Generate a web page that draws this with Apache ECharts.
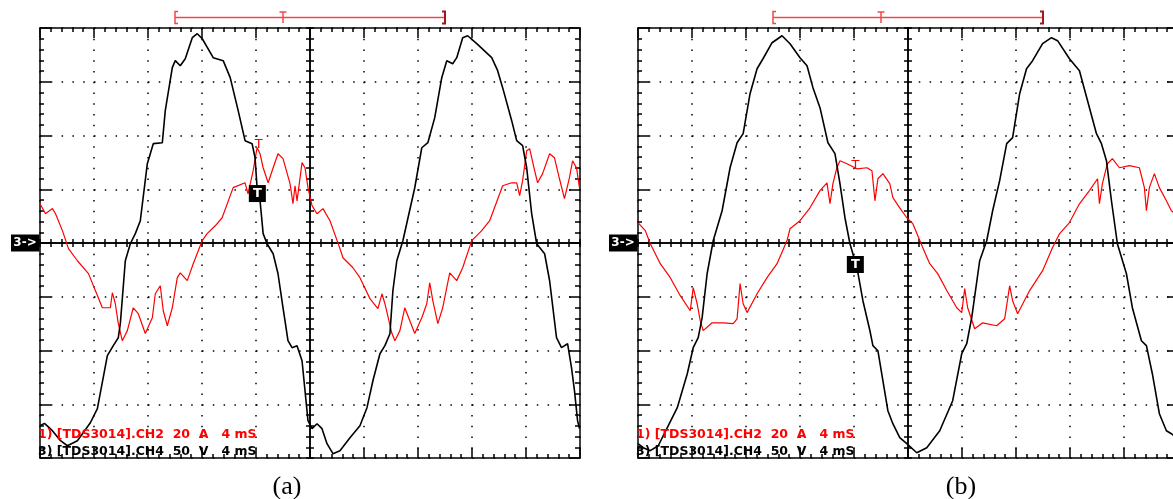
<!DOCTYPE html>
<html>
<head>
<meta charset="utf-8">
<title>TDS3014 waveforms</title>
<script src="https://cdn.jsdelivr.net/npm/echarts@6.0.0/dist/echarts.min.js"></script>
<style>
html, body { margin: 0; padding: 0; background: #fff; }
#main { width: 1173px; height: 499px; }
</style>
</head>
<body>
<div id="main"></div>
<script>
// two scope captures: black = CH4 voltage (50 V/div), red = CH2 current (20 A/div), 4 ms/div

// (a) voltage
var timeVoltA = [0.0,0.33,0.92,1.52,2.03,2.77,3.73,4.25,4.99,5.43,5.80,5.95,6.32,6.69,7.06,7.43,7.95,8.39,9.06,9.28,9.80,10.02,10.39,10.76,11.28,11.65,12.02,12.83,13.57,14.09,14.68,15.19,15.71,15.93,16.08,16.30,16.53,16.82,17.27,17.63,18.00,18.37,18.67,19.04,19.41,19.63,19.85,20.15,20.52,20.89,21.26,21.70,22.22,22.96,23.70,24.22,24.66,25.18,25.55,25.92,26.14,26.43,26.88,27.76,28.28,28.73,29.24,29.76,30.13,30.57,30.87,31.31,31.68,32.35,33.46,33.90,34.27,34.94,35.31,35.75,36.05,36.42,36.79,37.38,37.75,38.26,38.63,39.08,39.37,39.59,39.82,39.96];
var voltA = [-170.0,-167.8,-174.6,-183.9,-188.6,-183.9,-167.2,-154.1,-104.8,-95.5,-88.1,-75.1,-16.5,-0.7,8.7,20.7,73.8,92.4,93.3,123.1,163.1,169.6,164.9,171.4,191.0,194.7,190.0,172.4,169.6,153.8,123.1,95.2,92.4,79.3,51.4,39.3,8.7,-0.7,-10.0,-28.6,-60.2,-90.9,-97.4,-95.5,-109.5,-137.4,-165.3,-172.7,-168.1,-172.7,-186.7,-196.0,-193.2,-181.1,-170.0,-153.2,-128.1,-103.0,-95.5,-84.4,-44.4,-16.5,2.1,51.4,88.6,93.3,116.6,153.8,169.6,166.8,172.4,191.0,192.8,185.4,172.4,160.3,144.5,113.8,95.2,90.5,70.0,27.3,-0.7,-10.0,-35.1,-88.1,-97.4,-93.7,-116.0,-137.4,-165.3,-172.7];
// (a) current
var timeAmpA = [0.0,0.41,0.92,1.15,1.66,2.11,2.77,3.59,4.10,4.62,5.21,5.36,5.58,5.80,6.10,6.47,6.91,7.28,7.80,8.32,8.54,8.91,9.13,9.43,9.80,10.17,10.39,10.91,11.35,12.02,12.38,12.98,13.49,14.31,15.19,15.41,15.79,16.08,16.30,16.53,16.90,17.27,17.63,18.00,18.52,18.74,18.89,19.04,19.41,19.63,19.85,20.15,20.52,20.96,21.48,22.22,22.44,23.18,23.70,24.44,25.03,25.33,25.55,26.07,26.29,26.66,27.02,27.76,28.28,28.65,28.87,29.10,29.47,29.83,30.35,30.87,31.31,31.98,32.72,33.31,34.27,34.94,35.31,35.53,35.75,36.05,36.27,36.64,36.86,37.23,37.75,38.11,38.48,38.85,39.22,39.45,39.74,39.96];
var ampA = [14.6,10.9,12.8,10.9,4.6,-2.1,-6.6,-11.4,-17.7,-24.1,-24.1,-18.5,-22.6,-30.0,-36.4,-32.6,-24.1,-26.3,-33.7,-27.8,-18.9,-15.9,-25.2,-30.8,-24.1,-12.9,-11.1,-14.0,-7.7,0.9,3.5,6.4,9.4,20.6,22.4,18.3,26.9,35.5,33.2,28.0,22.4,28.0,33.2,31.4,22.1,14.6,21.3,15.7,29.9,28.0,20.6,13.9,10.9,12.8,8.3,-2.1,-5.5,-9.2,-12.9,-20.7,-24.4,-18.9,-22.6,-33.7,-36.4,-32.6,-24.1,-33.7,-27.8,-22.6,-14.8,-21.5,-30.0,-24.1,-11.1,-14.0,-9.2,0.9,4.6,8.3,21.3,22.4,22.4,17.6,23.2,34.3,35.1,26.9,22.4,25.8,33.2,31.7,23.9,16.5,24.3,30.6,28.0,20.6];

// (b) voltage
var timeVoltB = [0.0,0.39,0.91,1.50,2.17,2.91,3.65,4.09,4.46,4.75,5.12,5.57,6.23,6.82,7.34,7.79,8.30,8.82,9.26,9.93,10.67,11.26,12.00,12.52,12.96,13.48,14.07,14.59,14.96,15.33,15.70,16.22,16.66,17.18,17.40,17.77,18.14,18.51,18.88,19.39,19.91,20.65,21.39,22.35,23.31,23.98,24.35,24.72,25.31,25.83,26.27,26.79,27.31,27.75,28.27,28.78,29.23,29.97,30.63,31.08,31.96,32.70,33.30,33.96,34.33,34.70,35.07,35.51,36.18,36.62,37.29,37.66,38.10,38.62,39.14,39.51,40.0];
var voltB = [-186.7,-190.4,-193.2,-188.6,-171.8,-153.2,-121.6,-97.4,-88.1,-69.5,-28.6,2.1,30.0,70.0,93.3,101.7,138.9,162.1,171.4,186.3,192.8,185.4,172.4,164.9,144.5,125.9,93.3,83.1,55.2,23.5,-0.7,-23.0,-53.7,-81.6,-95.5,-100.2,-128.1,-156.0,-168.1,-181.1,-186.7,-195.1,-190.4,-174.6,-146.7,-103.0,-93.7,-69.5,-16.5,2.1,30.0,58.0,92.4,98.0,138.9,162.1,169.6,185.4,191.0,188.2,171.4,160.3,132.4,101.7,92.4,76.6,39.3,-0.7,-28.6,-60.2,-90.9,-95.5,-121.6,-158.8,-174.6,-177.4,-182.0];
// (b) current
var timeAmpB = [0.0,0.54,0.91,1.65,2.39,3.13,3.87,4.09,4.38,4.61,4.83,5.49,6.31,7.05,7.34,7.56,7.79,8.08,8.82,9.56,10.30,11.04,11.26,12.00,12.74,13.48,14.00,14.22,14.44,14.73,14.96,15.48,16.22,16.96,17.33,17.55,17.77,18.14,18.65,18.88,19.39,19.91,20.36,21.09,21.61,22.20,22.87,23.61,23.98,24.20,24.42,24.94,25.53,26.57,27.16,27.53,27.75,28.12,29.01,29.97,30.71,31.23,31.96,32.70,33.44,34.04,34.18,34.40,34.77,35.14,35.66,36.40,37.14,37.51,37.66,37.88,38.25,38.62,39.14,39.51,40.0];
var ampB = [7.6,4.6,-0.3,-7.7,-12.9,-19.6,-25.2,-16.6,-22.6,-28.9,-32.6,-29.7,-29.7,-30.0,-28.2,-15.1,-22.6,-25.9,-18.9,-12.9,-7.7,0.9,5.3,8.3,13.1,19.5,22.4,14.6,22.1,28.0,30.6,29.5,27.6,28.0,26.9,15.7,23.9,25.8,22.1,16.9,13.1,9.4,7.2,-1.7,-7.7,-11.4,-17.7,-24.1,-25.9,-17.0,-24.1,-31.9,-29.7,-30.8,-28.2,-15.9,-21.5,-26.3,-17.7,-10.3,-1.7,3.5,7.6,14.6,19.5,23.9,14.6,22.1,29.5,31.4,28.0,28.8,28.0,20.6,12.0,20.6,25.8,20.6,15.7,12.0,10.0];

// trigger marks
var trigTime = [16.1, 16.1];
var trigVolt = [46, -20];
var levelTime = [16.2, 16.1];
var levelAmp = [36.6, 28.8];
var recordWindow = [10, 30];
var recordTrig = 18;

// scales
var timeScale = {min: 0, max: 40, interval: 4};
var voltScale = {min: -200, max: 200, interval: 50};
var ampScale = {min: -80, max: 80, interval: 20};

var captions = ['(a)', '(b)'];
var chLabels = ['1) [TDS3014].CH2  20  A   4 mS', '3) [TDS3014].CH4  50  V   4 mS'];

var panels = [
    {left: 40, cap: 287, tv: timeVoltA, v: voltA, ti: timeAmpA, a: ampA},
    {left: 638, cap: 961, tv: timeVoltB, v: voltB, ti: timeAmpB, a: ampB}
];
var TOP = 28, GW = 540, GH = 430;

function zip(xs, ys) {
    var out = [];
    for (var i = 0; i < xs.length; i++) out.push([xs[i], ys[i]]);
    return out;
}

var LS = {color: '#000', width: 1.5};
function axis(gi, pos, sc, o) {
    return {
        type: 'value', gridIndex: gi, position: pos, offset: o.offset || 0,
        min: sc.min, max: sc.max, interval: sc.interval,
        axisLine: {show: true, onZero: false, lineStyle: LS},
        axisTick: {show: true, inside: o.inside, length: o.major, lineStyle: LS},
        minorTick: {show: true, splitNumber: 5, length: o.minor, lineStyle: LS},
        axisLabel: {show: false},
        splitLine: o.dots ? {show: true, lineStyle: {color: '#000', width: 1.5, type: o.dots}} : {show: false},
        axisPointer: {show: false}
    };
}

var grids = [], xAxes = [], yAxes = [], series = [], graphics = [];

panels.forEach(function (p, i) {
    grids.push({left: p.left, top: TOP, width: GW, height: GH, outerBoundsMode: 'none', containLabel: false});

    xAxes.push(axis(i, 'bottom', timeScale, {inside: true, major: 10, minor: 4, dots: [1.5, 9.25]}));
    xAxes.push(axis(i, 'top', timeScale, {inside: true, major: 10, minor: 4}));
    xAxes.push(axis(i, 'bottom', timeScale, {inside: true, major: 4, minor: 4, offset: -GH / 2}));
    xAxes.push(axis(i, 'bottom', timeScale, {inside: false, major: 4, minor: 4, offset: -GH / 2}));

    yAxes.push(axis(i, 'left', voltScale, {inside: true, major: 11, minor: 4, dots: [1.5, 9.3]}));
    yAxes.push(axis(i, 'right', ampScale, {inside: true, major: 11, minor: 5}));
    yAxes.push(axis(i, 'left', voltScale, {inside: true, major: 4, minor: 4, offset: -GW / 2}));
    yAxes.push(axis(i, 'left', voltScale, {inside: false, major: 4, minor: 4, offset: -GW / 2}));

    series.push({
        type: 'line', xAxisIndex: i * 4, yAxisIndex: i * 4 + 1,
        data: zip(p.ti, p.a), showSymbol: false, symbol: 'none',
        lineStyle: {color: '#ff0000', width: 1.2}, z: 3,
        markPoint: {
            symbol: 'rect', symbolSize: 1, itemStyle: {color: 'rgba(0,0,0,0)'},
            label: {show: true, position: 'inside', formatter: 'T', color: '#ff0000', fontSize: 13, fontFamily: 'DejaVu Sans'},
            data: [{coord: [levelTime[i], levelAmp[i]]}]
        }
    });
    series.push({
        type: 'line', xAxisIndex: i * 4, yAxisIndex: i * 4,
        data: zip(p.tv, p.v), showSymbol: false, symbol: 'none',
        lineStyle: {color: '#000', width: 1.6}, z: 4,
        markPoint: {
            symbol: 'rect', symbolSize: 17, itemStyle: {color: '#000'},
            label: {show: true, position: 'inside', formatter: 'T', color: '#fff', fontSize: 13, fontWeight: 'bold', fontFamily: 'DejaVu Sans'},
            data: [{coord: [trigTime[i], trigVolt[i]]}]
        }
    });

    // ground marker "3->"
    var midY = TOP + GH / 2;
    graphics.push({type: 'rect', shape: {x: p.left - 29, y: midY - 8.5, width: 28.5, height: 17}, style: {fill: '#000'}, z: 10});
    graphics.push({type: 'text', x: p.left - 15, y: midY, z: 11,
        style: {text: '3->', fill: '#fff', font: 'bold 12px "DejaVu Sans"', align: 'center', verticalAlign: 'middle', textAlign: 'center', textVerticalAlign: 'middle'}});

    // record window bar on top
    var tx = function (t) { return p.left + GW * (t - timeScale.min) / (timeScale.max - timeScale.min); };
    var x1 = tx(recordWindow[0]), x2 = tx(recordWindow[1]), xt = tx(recordTrig);
    graphics.push({type: 'line', shape: {x1: x1, y1: 17.5, x2: x2, y2: 17.5}, style: {stroke: '#f04848', lineWidth: 1.5}, z: 10});
    graphics.push({type: 'polyline', shape: {points: [[x1 + 3, 11.5], [x1, 11.5], [x1, 23.5], [x1 + 3, 23.5]]}, style: {stroke: '#f04848', lineWidth: 1.5, fill: null}, z: 10});
    graphics.push({type: 'polyline', shape: {points: [[x2 - 3, 11.5], [x2, 11.5], [x2, 23.5], [x2 - 3, 23.5]]}, style: {stroke: '#a01818', lineWidth: 2, fill: null}, z: 10});
    graphics.push({type: 'line', shape: {x1: xt - 3.5, y1: 12, x2: xt + 3.5, y2: 12}, style: {stroke: '#f04848', lineWidth: 1.5}, z: 10});
    graphics.push({type: 'line', shape: {x1: xt, y1: 12, x2: xt, y2: 23}, style: {stroke: '#f04848', lineWidth: 1.5}, z: 10});

    // channel labels
    graphics.push({type: 'text', x: p.left - 2, y: 435, z: 11,
        style: {text: chLabels[0], fill: '#ff0000', font: 'bold 12.5px "DejaVu Sans"', align: 'left', verticalAlign: 'middle', textAlign: 'left', textVerticalAlign: 'middle'}});
    graphics.push({type: 'text', x: p.left - 2, y: 451.5, z: 11,
        style: {text: chLabels[1], fill: '#000', font: 'bold 12.5px "DejaVu Sans"', align: 'left', verticalAlign: 'middle', textAlign: 'left', textVerticalAlign: 'middle'}});

    // caption
    graphics.push({type: 'text', x: p.cap, y: 487, z: 11,
        style: {text: captions[i], fill: '#000', font: '26px "Liberation Serif"', align: 'center', verticalAlign: 'middle', textAlign: 'center', textVerticalAlign: 'middle'}});
});

var myChart = echarts.init(document.getElementById('main'));
var option = {
    animation: false,
    backgroundColor: '#fff',
    grid: grids,
    xAxis: xAxes,
    yAxis: yAxes,
    series: series,
    graphic: {elements: graphics}
};
myChart.setOption(option);
</script>
</body>
</html>
